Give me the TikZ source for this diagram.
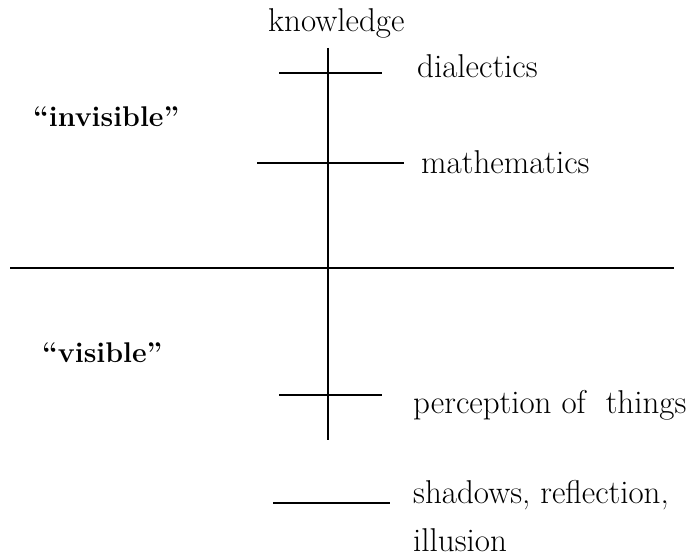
\documentclass[tikz,border=0pt]{standalone}
\begin{document}
\begin{tikzpicture}[x=1pt,y=-1pt,
  ln/.style={line width=1.6pt, black},
  lbl/.style={anchor=base west, inner sep=0pt, font=\fontsize{33}{40}\selectfont},
  blbl/.style={anchor=base west, inner sep=0pt, font=\fontsize{28.5}{34}\selectfont\bfseries}]
\useasboundingbox (0,0) rectangle (695,556);
% axis coordinates
\coordinate (vtop) at (328,48);
\coordinate (vbot) at (328,440);
\coordinate (hl) at (10,268);
\coordinate (hr) at (674,268);
\coordinate (d1) at (279,73);  \coordinate (d2) at (382,73);
\coordinate (m1) at (257,163); \coordinate (m2) at (404,163);
\coordinate (p1) at (279,395); \coordinate (p2) at (382,395);
\coordinate (s1) at (273,503); \coordinate (s2) at (390,503);
\draw[ln] (vtop) -- (vbot);
\draw[ln] (hl) -- (hr);
\draw[ln] (d1) -- (d2);
\draw[ln] (m1) -- (m2);
\draw[ln] (p1) -- (p2);
\draw[ln] (s1) -- (s2);
% labels
\node[lbl] (know) at (268,32) {knowledge};
\node[lbl] (dia) at (417,78) {dialectics};
\node[lbl] (math) at (421,173) {mathematics};
\node[lbl] (perc) at (413,413) {perception of\ \ things};
\node[lbl] (shad) at (413,503) {shadows, reflection,};
\node[lbl] (ill) at (413,551) {illusion};
\node[blbl] (inv) at (33,127) {``invisible''};
\node[blbl] (vis) at (42,362) {``visible''};
\end{tikzpicture}
\end{document}
